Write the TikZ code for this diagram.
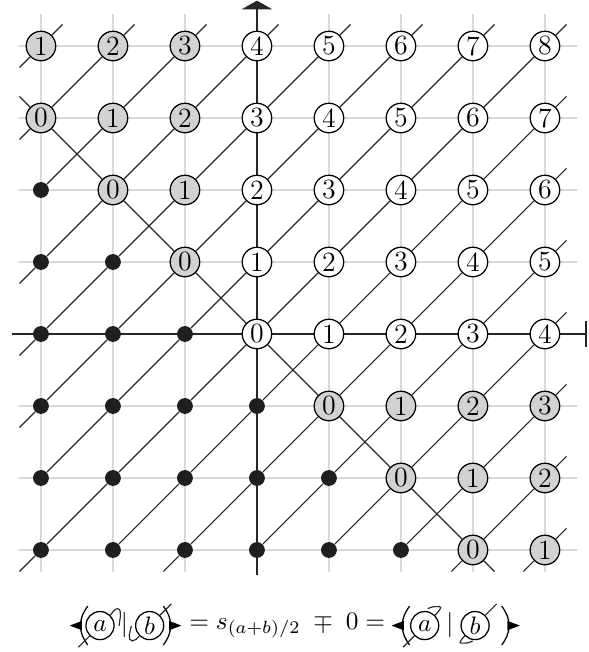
\documentclass[tikz,border=0pt]{standalone}
\usetikzlibrary{arrows.meta,backgrounds}

\tikzset{
  gridline/.style={gray!30, line width=0.5pt},
  axis/.style={line width=0.8pt, black!85},
  diag/.style={line width=0.45pt, black!85},
  numnode/.style={circle, draw, line width=0.5pt, minimum size=0.41cm, inner sep=0pt, font=\fontsize{11}{13}\selectfont},
  whitenode/.style={numnode, fill=white},
  graynode/.style={numnode, fill=gray!35},
  dotnode/.style={circle, fill=black!88, minimum size=0.22cm, inner sep=0pt},
  termnode/.style={circle, draw, line width=0.5pt, minimum size=0.39cm, inner sep=0pt},
  lbrak/.pic={
    \fill (0,0) -- (0.17,0.065) -- (0.17,-0.065) -- cycle;
    \draw[line width=0.5pt] (0.25,0.27) to[out=235,in=90] (0.15,0) to[out=-90,in=125] (0.25,-0.27);
  },
}

\begin{document}
\begin{tikzpicture}
\useasboundingbox (-3.569,-4.417) rectangle (4.611,4.639);

% lattice points, value i+j
\foreach \cc in {0,...,7}{
  \foreach \rr in {0,...,7}{
    \pgfmathtruncatemacro\val{\cc+\rr-6}
    \pgfmathtruncatemacro\kind{\val<0 ? 0 : ((\cc>2 && \rr>2) ? 1 : 2)}
    \ifcase\kind \node[dotnode] (v\cc\rr) at (\cc-3,\rr-3) {};
    \or \node[whitenode] (v\cc\rr) at (\cc-3,\rr-3) {\val};
    \or \node[graynode] (v\cc\rr) at (\cc-3,\rr-3) {\val};
    \fi
  }
}

\begin{pgfonlayer}{background}
  \foreach \k in {-3,...,4}{
    \draw[gridline] (\k,-3.3) -- (\k,4.45);
    \draw[gridline] (-3.3,\k) -- (4.45,\k);
  }
  \coordinate (xs) at (-3.4,0);
  \coordinate (xe) at (4.58,0);
  \coordinate (ys) at (0,-3.35);
  \coordinate (ye) at (0,4.63);
  \draw[axis, -{Bar[width=0.36cm]}] (xs) -- (xe);
  \draw[axis, -{Triangle[width=0.42cm,length=0.12cm]}] (ys) -- (ye);
\end{pgfonlayer}

% diagonals i-j = const, tail=1 if it runs out at the lower left
\foreach \dg/\tail in {-7/1,-6/1,-5/0,-4/1,-3/1,-2/1,-1/0,0/1,1/0,2/1,3/0,4/0,5/0,6/1,7/1}{
  \pgfmathtruncatemacro\cs{max(0,\dg)}
  \pgfmathtruncatemacro\ce{min(7,7+\dg)}
  \pgfmathtruncatemacro\rs{\cs-\dg}
  \pgfmathtruncatemacro\re{\ce-\dg}
  \draw[diag] (v\ce\re) -- ++(0.3,0.3);
  \ifnum\tail=1 \draw[diag] (v\cs\rs) -- ++(-0.3,-0.3); \fi
  \ifnum\cs<\ce
    \pgfmathtruncatemacro\cm{\ce-1}
    \foreach \cc in {\cs,...,\cm}{
      \pgfmathtruncatemacro\rr{\cc-\dg}
      \pgfmathtruncatemacro\cn{\cc+1}
      \pgfmathtruncatemacro\rn{\rr+1}
      \draw[diag] (v\cc\rr) -- (v\cn\rn);
    }
  \fi
}

% the zero line
\draw[diag] (v06) -- ++(-0.3,0.3);
\foreach \cc in {0,...,5}{
  \pgfmathtruncatemacro\rr{6-\cc}
  \pgfmathtruncatemacro\cn{\cc+1}
  \pgfmathtruncatemacro\rn{5-\cc}
  \draw[diag] (v\cc\rr) -- (v\cn\rn);
}
\draw[diag] (v60) -- ++(0.3,-0.3);

% pairing below
\pic at (-2.6,-4.05) {lbrak};
\node[termnode] (a1) at (-2.18,-4.05) {$a$};
\node (bar1) at (-1.84,-4.05) {$|$};
\node[termnode] (b1) at (-1.49,-4.05) {$b$};
\pic[xscale=-1] at (-1.05,-4.05) {lbrak};
\node (mid) at (0.42,-4.05) {$= s_{(a+b)/2} \;\mp\; 0 =$};
\pic at (1.87,-4.05) {lbrak};
\node[termnode] (a2) at (2.33,-4.05) {$a$};
\node (bar2) at (2.68,-4.05) {$|$};
\node[termnode] (b2) at (3.03,-4.05) {$b$};
\pic[xscale=-1] at (3.65,-4.05) {lbrak};

\draw[diag] (a1) -- ++(-0.3,-0.3);
\draw[diag] (a1.45) to[out=45,in=180] ++(0.1,0.09) to[out=0,in=90] ++(0.04,-0.1) to[out=-90,in=90] ++(-0.02,-0.14);
\draw[diag] (b1) -- ++(0.3,0.3);
\draw[diag] (b1.225) to[out=225,in=0] ++(-0.1,-0.07) to[out=180,in=-90] ++(-0.04,0.08) to[out=90,in=-90] ++(0.03,0.13);
\draw[diag] (a2) -- ++(-0.3,-0.3);
\draw[diag] (a2.45) to[out=45,in=0] ++(0.06,0.12) to[out=180,in=30] ++(-0.16,-0.03);
\draw[diag] (b2) -- ++(0.3,0.3);
\draw[diag] (b2.225) to[out=225,in=180] ++(-0.05,-0.1) to[out=0,in=210] ++(0.16,0.03);
\end{tikzpicture}
\end{document}
